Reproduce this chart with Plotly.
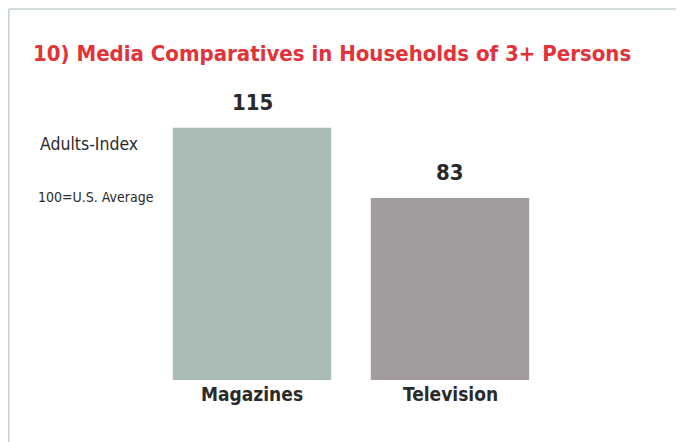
import plotly.graph_objects as go

categories = ["Magazines", "Television"]
values = [115, 83]
bar_colors = ["#a9bcb8", "#a29b9b"]
title_text = "10) Media Comparatives in Households of 3+ Persons"
ylabel_main = "Adults-Index"
ylabel_sub = "100=U.S. Average"

# page is rendered with an 8px body margin, so the figure is drawn 8px in
OFF = 8
W, H = 684 - OFF, 442 - OFF
ML, MR, MT, MB = 153 - OFF, 135, 73 - OFF, 62
FONT = "DejaVu Sans Condensed, Liberation Sans Narrow, sans-serif"
TXT = "#2b2a2a"

fig = go.Figure()
fig.add_trace(go.Bar(
    x=categories, y=values,
    marker=dict(color=bar_colors, line=dict(width=0)),
    width=0.8,
    hoverinfo="skip",
))

for c, v in zip(categories, values):
    fig.add_annotation(x=c, y=v, text=f"<b>{v}</b>", showarrow=False,
                       yanchor="middle", yshift=25,
                       font=dict(family=FONT, size=22, color=TXT))
    fig.add_annotation(x=c, y=0, text=f"<b>{c}</b>", showarrow=False,
                       yanchor="middle", yshift=-14,
                       font=dict(family=FONT, size=19, color=TXT))

pw = W - ML - MR
ph = H - MT - MB
def px_x(p):
    return (p - OFF - ML) / pw
def px_y(p):
    return (H - MB - (p - OFF)) / ph

fig.add_annotation(xref="paper", yref="paper", x=px_x(332), y=px_y(54),
                   text=f"<b>{title_text}</b>", showarrow=False,
                   xanchor="center", yanchor="middle",
                   font=dict(family=FONT, size=22, color="#e2323a"))
fig.add_annotation(xref="paper", yref="paper", x=px_x(38), y=px_y(144),
                   text=ylabel_main, showarrow=False,
                   xanchor="left", yanchor="middle",
                   font=dict(family=FONT, size=17.5, color=TXT))
fig.add_annotation(xref="paper", yref="paper", x=px_x(36), y=px_y(197),
                   text=ylabel_sub, showarrow=False,
                   xanchor="left", yanchor="middle",
                   font=dict(family=FONT, size=14, color=TXT))

# frame lines (left and top)
fig.add_shape(type="line", xref="paper", yref="paper",
              x0=px_x(8.8), x1=px_x(8.8), y0=px_y(9), y1=px_y(442),
              line=dict(color="#c5d2d2", width=1.5))
fig.add_shape(type="line", xref="paper", yref="paper",
              x0=px_x(8.8), x1=px_x(684), y0=px_y(9), y1=px_y(9),
              line=dict(color="#c5d2d2", width=1.5))

fig.update_layout(
    width=W, height=H,
    margin=dict(l=ML, r=MR, t=MT, b=MB),
    paper_bgcolor="white", plot_bgcolor="white",
    showlegend=False,
    xaxis=dict(range=[-0.5, 1.5], showgrid=False, zeroline=False,
               showline=False, ticks="", showticklabels=False),
    yaxis=dict(range=[0, 140], visible=False),
)

fig.write_html("out.html")
